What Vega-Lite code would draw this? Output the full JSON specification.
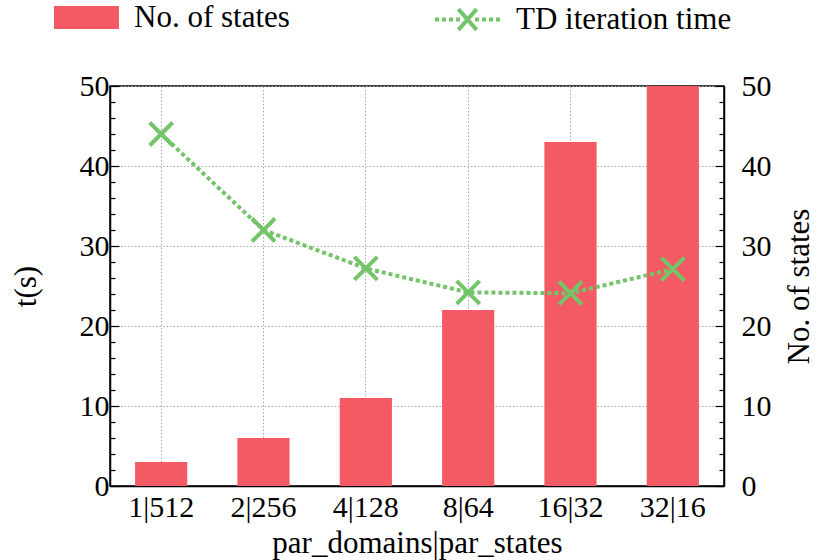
{
  "$schema": "https://vega.github.io/schema/vega-lite/v6.json",
  "width": 614,
  "height": 400,
  "autosize": {"type": "none"},
  "padding": {"left": 110, "top": 86, "right": 94, "bottom": 74},
  "background": "white",
  "config": {
    "font": "Times New Roman, Liberation Serif, serif",
    "view": {"stroke": "black", "strokeWidth": 1.5},
    "axis": {
      "labelFont": "Times New Roman, Liberation Serif, serif",
      "titleFont": "Times New Roman, Liberation Serif, serif",
      "labelFontSize": 30,
      "titleFontSize": 31,
      "labelColor": "black",
      "titleColor": "black",
      "titleFontWeight": "normal",
      "domainColor": "black",
      "domainWidth": 1.5,
      "tickColor": "black",
      "tickWidth": 1.2,
      "gridColor": "#a8a8a8",
      "gridDash": [1.5, 2],
      "gridWidth": 1
    },
    "legend": {
      "labelFont": "Times New Roman, Liberation Serif, serif",
      "labelFontSize": 31,
      "labelColor": "black",
      "labelLimit": 500,
      "padding": 0,
      "titlePadding": 0
    }
  },
  "data": {
    "values": [
      {"cfg": "1|512", "t": 44, "states": 3},
      {"cfg": "2|256", "t": 32, "states": 6},
      {"cfg": "4|128", "t": 27.2, "states": 11},
      {"cfg": "8|64", "t": 24.2, "states": 22},
      {"cfg": "16|32", "t": 24.1, "states": 43},
      {"cfg": "32|16", "t": 27.1, "states": 50}
    ]
  },
  "encoding": {
    "x": {
      "field": "cfg",
      "type": "nominal",
      "sort": null,
      "scale": {"paddingInner": 0.49, "paddingOuter": 0.245},
      "axis": {
        "title": "par_domains|par_states",
        "labelAngle": 0,
        "ticks": false,
        "grid": true,
        "bandPosition": 0.5,
        "labelPadding": 6,
        "titlePadding": 6
      }
    }
  },
  "layer": [
    {
      "mark": {"type": "bar", "clip": true, "opacity": 1},
      "encoding": {
        "y": {
          "field": "states",
          "type": "quantitative",
          "scale": {"domain": [0, 50]},
          "axis": {
            "orient": "right",
            "title": "No. of states",
            "titleAngle": 270,
            "titleBaseline": "top",
            "grid": false,
            "values": [0, 2, 4, 6, 8, 10, 12, 14, 16, 18, 20, 22, 24, 26, 28, 30, 32, 34, 36, 38, 40, 42, 44, 46, 48, 50],
            "labelExpr": "datum.value % 10 === 0 ? datum.label : ''",
            "tickSize": {"condition": {"test": "datum.value % 10 === 0", "value": -9}, "value": -5},
            "labelPadding": 26,
            "titlePadding": 13,
            "labelBaseline": "middle"
          }
        },
        "fill": {
          "datum": "No. of states",
          "scale": {"range": ["#f35a64"]},
          "legend": {
            "title": null,
            "orient": "none",
            "legendX": -56,
            "legendY": -101,
            "symbolType": "M-1,-0.354L1,-0.354L1,0.354L-1,0.354Z",
            "symbolSize": 4225,
            "symbolStrokeWidth": 0,
            "symbolOpacity": 1,
            "labelOffset": 15
          }
        }
      }
    },
    {
      "encoding": {
        "y": {
          "field": "t",
          "type": "quantitative",
          "scale": {"domain": [0, 50]},
          "axis": {
            "orient": "left",
            "title": "t(s)",
            "grid": true,
            "values": [0, 2, 4, 6, 8, 10, 12, 14, 16, 18, 20, 22, 24, 26, 28, 30, 32, 34, 36, 38, 40, 42, 44, 46, 48, 50],
            "labelExpr": "datum.value % 10 === 0 ? datum.label : ''",
            "gridOpacity": {"condition": {"test": "datum.value % 10 === 0", "value": 1}, "value": 0},
            "tickSize": {"condition": {"test": "datum.value % 10 === 0", "value": -9}, "value": -5},
            "labelPadding": 10,
            "titlePadding": 37
          }
        },
        "stroke": {
          "datum": "TD iteration time",
          "scale": {"range": ["#74c469"]},
          "legend": {
            "title": null,
            "orient": "none",
            "legendX": 323,
            "legendY": -101,
            "symbolType": "M-0.28,-0.32L0.28,0.32M-0.28,0.32L0.28,-0.32M-1,0L-0.877,0M-0.785,0L-0.662,0M-0.569,0L-0.446,0M-0.354,0L-0.231,0M0.231,0L0.354,0M0.446,0L0.569,0M0.662,0L0.785,0M0.877,0L1,0",
            "symbolSize": 4225,
            "symbolStrokeWidth": 4,
            "symbolFillColor": "transparent",
            "symbolDash": [1, 0],
            "symbolOpacity": 1,
            "labelOffset": 14
          }
        }
      },
      "layer": [
        {"mark": {"type": "line", "strokeDash": [4, 3], "strokeWidth": 4}},
        {"mark": {"type": "point", "shape": "M-1,-1L1,1M-1,1L1,-1", "filled": false, "size": 529, "strokeWidth": 4, "opacity": 1}}
      ]
    }
  ],
  "resolve": {"scale": {"y": "independent"}}
}
